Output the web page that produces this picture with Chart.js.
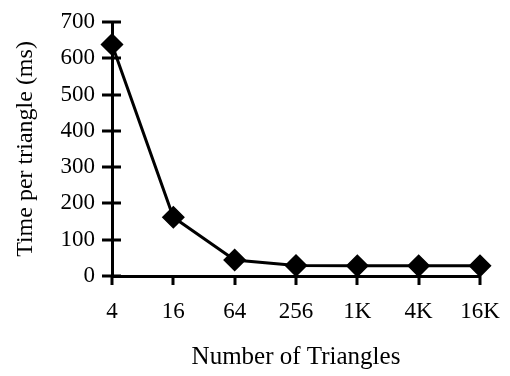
<!DOCTYPE html>
<html>
<head>
<meta charset="utf-8">
<script src="https://cdn.jsdelivr.net/npm/chart.js@4/dist/chart.umd.min.js"></script>
<style>
  html, body { margin: 0; padding: 0; background: #fff; }
  #wrap { width: 510px; height: 376px; }
</style>
</head>
<body>
<div id="wrap"><canvas id="time-chart"></canvas></div>
<script>
// data
var triangleCounts = ['4', '16', '64', '256', '1K', '4K', '16K'];
var timePerTriangle = [638, 162, 44, 29, 28, 28, 28];
var yTicks = [0, 100, 200, 300, 400, 500, 600, 700];

var serif = "'Liberation Serif', 'Times New Roman', serif";

// tick marks drawn across the axis lines, like the original
var crossTicks = {
    id: 'crossTicks',
    afterDraw: function(chart) {
        var ctx = chart.ctx;
        var x = chart.scales.x, y = chart.scales.y;
        ctx.save();
        ctx.strokeStyle = '#000';
        ctx.lineWidth = 3;
        ctx.beginPath();
        for (var i = 0; i < yTicks.length; i++) {
            var py = Math.round(y.getPixelForValue(yTicks[i]));
            ctx.moveTo(x.left - 10, py);
            ctx.lineTo(x.left + 9, py);
        }
        for (var j = 0; j < triangleCounts.length; j++) {
            var px = Math.round(x.getPixelForValue(j));
            ctx.moveTo(px, y.bottom);
            ctx.lineTo(px, y.bottom + 9);
        }
        ctx.stroke();
        ctx.restore();
    }
};

var ctx = document.getElementById('time-chart');
var lineChart = new Chart(ctx, {
    type: 'line',
    data: {
        labels: triangleCounts,
        datasets: [{
            label: 'Time per triangle',
            data: timePerTriangle,
            borderColor: '#000',
            backgroundColor: '#000',
            borderWidth: 3,
            pointStyle: 'rectRot',
            pointRadius: 10.5,
            pointBorderWidth: 1.5,
            pointBackgroundColor: '#000',
            pointBorderColor: '#000',
            tension: 0
        }]
    },
    options: {
        responsive: true,
        maintainAspectRatio: false,
        animation: false,
        layout: { padding: { top: 22, right: 30, left: 0, bottom: 0 } },
        plugins: {
            legend: { display: false },
            tooltip: { enabled: false }
        },
        scales: {
            x: {
                type: 'category',
                offset: false,
                grid: { display: false, drawTicks: false },
                border: { display: true, color: '#000', width: 3 },
                ticks: {
                    color: '#000',
                    padding: 22,
                    maxRotation: 0,
                    font: { family: serif, size: 23 }
                },
                title: {
                    display: true,
                    text: 'Number of Triangles',
                    color: '#000',
                    font: { family: serif, size: 25 },
                    padding: { top: 0, bottom: 4 }
                },
                afterFit: function(scale) {
                    scale.height = 100;
                    scale.paddingLeft = 0;
                    scale.paddingRight = 0;
                }
            },
            y: {
                min: 0,
                max: 700,
                grid: { display: false, drawTicks: false },
                border: { display: true, color: '#000', width: 3 },
                afterBuildTicks: function(scale) {
                    scale.ticks = yTicks.map(function(v) { return { value: v }; });
                },
                ticks: {
                    color: '#000',
                    padding: 17,
                    font: { family: serif, size: 23 }
                },
                title: {
                    display: true,
                    text: 'Time per triangle (ms)',
                    color: '#000',
                    font: { family: serif, size: 24 },
                    padding: { top: 11, bottom: 0 }
                },
                afterFit: function(scale) {
                    scale.width = 112;
                    scale.paddingTop = 0;
                    scale.paddingBottom = 0;
                }
            }
        }
    },
    plugins: [crossTicks]
});
</script>
</body>
</html>
